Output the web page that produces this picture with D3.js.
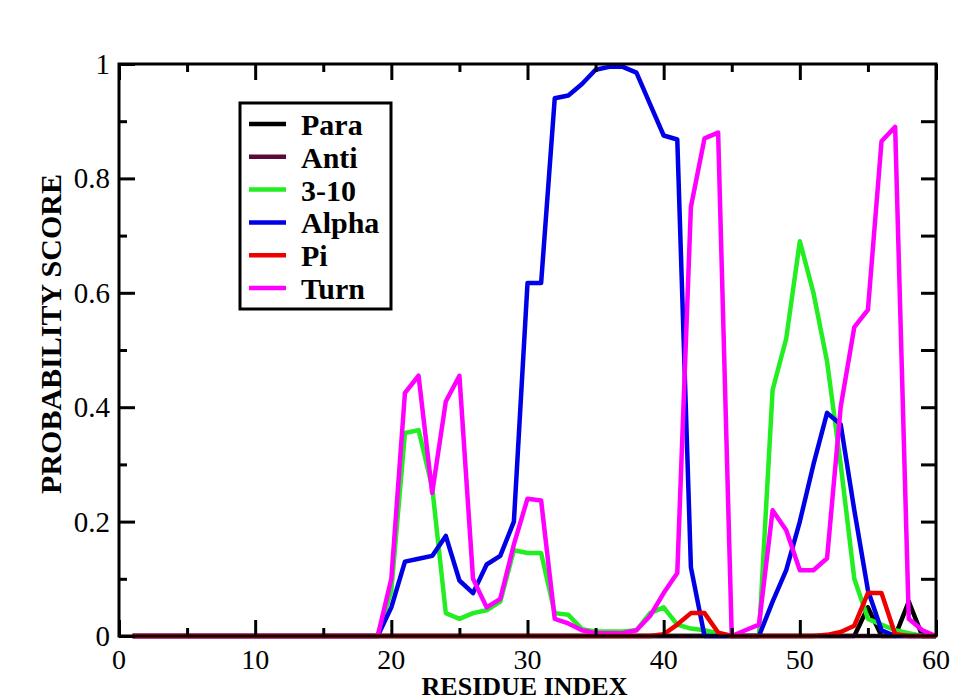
<!DOCTYPE html>
<html>
<head>
<meta charset="utf-8">
<script src="https://cdn.jsdelivr.net/npm/d3@7"></script>
<style>
  body { margin: 0; background: #fff; }
  svg { display: block; }
</style>
</head>
<body>
<div class="chart"></div>
<script>
// residue indices along x
const residues = [1,2,3,4,5,6,7,8,9,10,11,12,13,14,15,16,17,18,19,20,
                  21,22,23,24,25,26,27,28,29,30,31,32,33,34,35,36,37,38,39,40,
                  41,42,43,44,45,46,47,48,49,50,51,52,53,54,55,56,57,58,59,60];

// probability per residue, one array per secondary structure
const para  = [0,0,0,0,0,0,0,0,0,0, 0,0,0,0,0,0,0,0,0,0,
               0,0,0,0,0,0,0,0,0,0, 0,0,0,0,0,0,0,0,0,0,
               0,0,0,0,0,0,0,0,0,0, 0,0,0,0,0.05,0,0,0.06,0,0];
const anti  = [0,0,0,0,0,0,0,0,0,0, 0,0,0,0,0,0,0,0,0,0,
               0,0,0,0,0,0,0,0,0,0, 0,0,0,0,0,0,0,0,0,0,
               0,0,0,0,0,0,0,0,0,0, 0,0,0,0,0,0,0,0,0,0];
const h310  = [0,0,0,0,0,0,0,0,0,0, 0,0,0,0,0,0,0,0,0,0.08,
               0.355,0.36,0.26,0.04,0.03,0.04,0.045,0.06,0.15,0.145,
               0.145,0.04,0.037,0.012,0.008,0.008,0.008,0.01,0.04,0.05,
               0.02,0.013,0.01,0.005,0,0,0,0.43,0.52,0.69,
               0.6,0.48,0.3,0.1,0.03,0.02,0.01,0.005,0,0];
const alpha = [0,0,0,0,0,0,0,0,0,0, 0,0,0,0,0,0,0,0,0,0.05,
               0.13,0.135,0.14,0.175,0.097,0.075,0.125,0.14,0.2,0.617,
               0.617,0.94,0.945,0.965,0.99,0.995,0.995,0.985,0.93,0.875,
               0.868,0.12,0,0,0,0,0,0.06,0.115,0.2,
               0.3,0.39,0.37,0.22,0.08,0.01,0,0,0,0];
const pi    = [0,0,0,0,0,0,0,0,0,0, 0,0,0,0,0,0,0,0,0,0,
               0,0,0,0,0,0,0,0,0,0, 0,0,0,0,0,0,0,0,0,0.003,
               0.02,0.04,0.04,0.006,0,0,0,0,0,0,
               0,0.002,0.007,0.018,0.075,0.075,0.003,0,0,0];
const turn  = [0,0,0,0,0,0,0,0,0,0, 0,0,0,0,0,0,0,0,0,0.1,
               0.425,0.455,0.25,0.41,0.455,0.1,0.05,0.065,0.16,0.24,
               0.237,0.03,0.022,0.01,0.005,0.005,0.005,0.01,0.035,0.075,
               0.11,0.75,0.87,0.88,0,0.01,0.02,0.22,0.185,0.115,
               0.115,0.136,0.4,0.54,0.57,0.865,0.89,0.03,0.01,0];

const seriesNames  = ['Para', 'Anti', '3-10', 'Alpha', 'Pi', 'Turn'];
const seriesValues = [para, anti, h310, alpha, pi, turn];
const seriesColors = ['#000000', '#5a0a3a', '#22ee22', '#0000e6', '#ee0000', '#ff00ff'];
// drawing order (Pi ends up on top along the baseline)
const drawOrder = [0, 1, 2, 3, 5, 4];

const xTicks = [0, 10, 20, 30, 40, 50, 60];
const yTicks = [0, 0.2, 0.4, 0.6, 0.8, 1];
const yTickLabels = ['0', '0.2', '0.4', '0.6', '0.8', '1'];

let W = 957, H = 700;
let margin = {top: 64, right: 21, bottom: 64, left: 119},
    width = W - margin.left - margin.right,
    height = H - margin.top - margin.bottom;

let svg = d3.select('.chart')
    .append('svg')
    .attr('width', W)
    .attr('height', H)
    .style('background', '#fff');

let g = svg.append('g')
    .attr('transform', 'translate(' + margin.left + ',' + margin.top + ')');

let x = d3.scaleLinear().domain([0, 60]).range([0, width]);
let y = d3.scaleLinear().domain([0, 1]).range([height, 0]);

const serif = '"Liberation Serif", "DejaVu Serif", serif';

// lines
let line = d3.line()
    .x(d => x(d[0]))
    .y(d => y(d[1]));

drawOrder.forEach(i => {
    g.append('path')
        .datum(residues.map((r, k) => [r, seriesValues[i][k]]))
        .attr('fill', 'none')
        .attr('stroke', seriesColors[i])
        .attr('stroke-width', 4.5)
        .attr('stroke-linejoin', 'round')
        .attr('d', line);
});

// axes with inward ticks on all four sides
let tickStyle = sel => {
    sel.select('.domain').remove();
    sel.selectAll('line').attr('stroke', '#000').attr('stroke-width', 3);
};
g.append('g')
    .attr('transform', 'translate(0,' + height + ')')
    .call(d3.axisBottom(x).tickValues(d3.range(0, 61, 10)).tickSize(-16).tickFormat(''))
    .call(tickStyle);
g.append('g')
    .attr('transform', 'translate(0,' + height + ')')
    .call(d3.axisBottom(x).tickValues(d3.range(5, 60, 10)).tickSize(-8).tickFormat(''))
    .call(tickStyle);
g.append('g')
    .call(d3.axisTop(x).tickValues(d3.range(0, 61, 10)).tickSize(-16).tickFormat(''))
    .call(tickStyle);
g.append('g')
    .call(d3.axisTop(x).tickValues(d3.range(5, 60, 10)).tickSize(-8).tickFormat(''))
    .call(tickStyle);
g.append('g')
    .call(d3.axisLeft(y).tickValues(yTicks).tickSize(-16).tickFormat(''))
    .call(tickStyle);
g.append('g')
    .call(d3.axisLeft(y).tickValues([0.1, 0.3, 0.5, 0.7, 0.9]).tickSize(-8).tickFormat(''))
    .call(tickStyle);
g.append('g')
    .attr('transform', 'translate(' + width + ',0)')
    .call(d3.axisRight(y).tickValues(d3.range(0.1, 1, 0.1)).tickSize(-15).tickFormat(''))
    .call(tickStyle);

// frame
g.append('rect')
    .attr('width', width)
    .attr('height', height)
    .attr('fill', 'none')
    .attr('stroke', '#000')
    .attr('stroke-width', 3);

// tick labels
g.selectAll('.xlab')
    .data(xTicks)
    .enter()
    .append('text')
    .attr('x', d => x(d))
    .attr('y', height + 33)
    .attr('text-anchor', 'middle')
    .style('font-family', serif)
    .style('font-size', '28px')
    .text(d => d);

g.selectAll('.ylab')
    .data(yTicks)
    .enter()
    .append('text')
    .attr('x', -9)
    .attr('y', d => y(d) + 10)
    .attr('text-anchor', 'end')
    .style('font-family', serif)
    .style('font-size', '29px')
    .text((d, i) => yTickLabels[i]);

// axis titles
svg.append('text')
    .attr('x', margin.left + width / 2 - 3)
    .attr('y', 695)
    .attr('text-anchor', 'middle')
    .style('font-family', serif)
    .style('font-weight', 'bold')
    .style('font-size', '26px')
    .text('RESIDUE INDEX');

svg.append('text')
    .attr('text-anchor', 'middle')
    .attr('transform', 'translate(61,' + 334 + ')rotate(-90)')
    .style('font-family', serif)
    .style('font-weight', 'bold')
    .style('font-size', '30px')
    .text('PROBABILITY SCORE');

// legend
let legend = svg.append('g');
legend.append('rect')
    .attr('x', 240)
    .attr('y', 103)
    .attr('width', 151)
    .attr('height', 206)
    .attr('fill', '#fff')
    .attr('stroke', '#000')
    .attr('stroke-width', 3);

seriesNames.forEach((name, i) => {
    let ly = 124 + i * 32.8;
    legend.append('line')
        .attr('x1', 249).attr('x2', 286)
        .attr('y1', ly).attr('y2', ly)
        .attr('stroke', seriesColors[i])
        .attr('stroke-width', 4.5);
    legend.append('text')
        .attr('x', 301)
        .attr('y', ly + 11)
        .style('font-family', serif)
        .style('font-weight', 'bold')
        .style('font-size', '30px')
        .text(name);
});
</script>
</body>
</html>
